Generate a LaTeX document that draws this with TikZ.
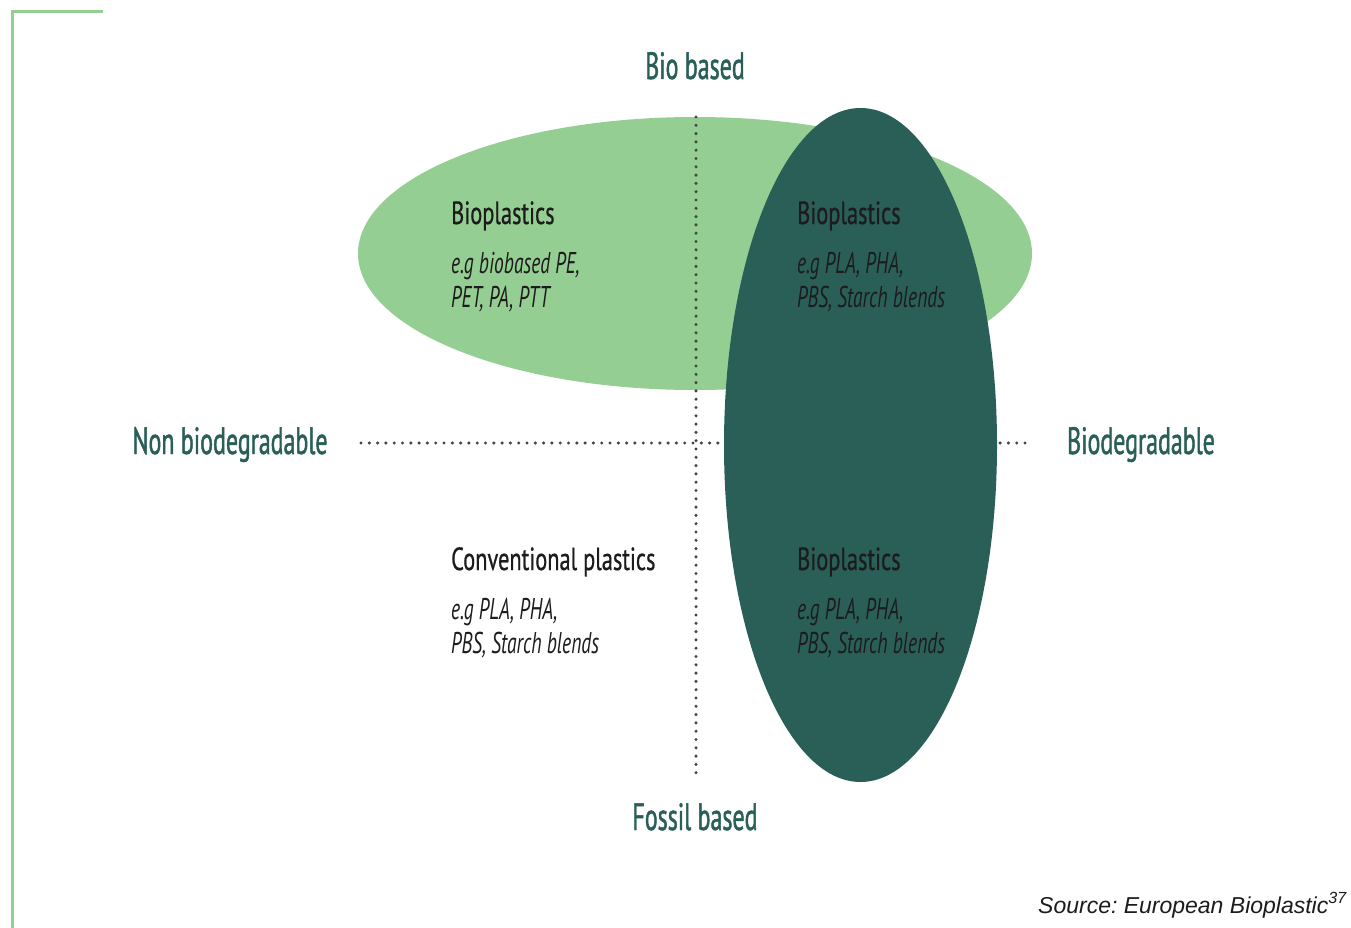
\documentclass[tikz,border=0pt]{standalone}
\usepackage{fontspec}
\usetikzlibrary{shapes.geometric}
\newfontfamily\axisf[FakeStretch=0.63,FakeBold=1.2]{PT Sans}
\newfontfamily\titlef[FakeStretch=0.7,FakeBold=0.6]{PT Sans}
\newfontfamily\exf[FakeStretch=0.65]{PT Sans}
\newfontfamily\srcfont{Liberation Sans}
\definecolor{lgreen}{HTML}{95CE92}
\definecolor{dgreen}{HTML}{2A5F58}
\definecolor{dotgray}{HTML}{454545}
\definecolor{txtdark}{HTML}{1C1C1C}
\begin{document}
\frenchspacing
\begin{tikzpicture}[x=1pt,y=-1pt,
  axislabel/.style={inner sep=0, anchor=base, text=dgreen, font=\axisf\fontsize{38}{40}\selectfont},
  title/.style={inner sep=0, anchor=base west, text=txtdark, font=\titlef\fontsize{32}{34}\selectfont},
  example/.style={inner sep=0, anchor=base west, text=txtdark, font=\exf\itshape\fontsize{30}{32}\selectfont},
  dotline/.style={dotgray, line width=3.4pt, line cap=round, dash pattern=on 0pt off 8.3pt},
  blob/.style={ellipse, inner sep=0, draw=none}]
\useasboundingbox (0,0) rectangle (1351,928);
\fill[white] (0,0) rectangle (1351,928);
% corner frame
\coordinate (fa) at (103,12);
\coordinate (fb) at (12,12);
\coordinate (fc) at (12,928);
\draw[lgreen, line width=3pt] (fa) -- (fb) -- (fc);
% light ellipse
\node[blob, fill=lgreen, minimum width=674, minimum height=273] (bio) at (695,253.5) {};
% axes
\coordinate (vt) at (696,117);
\coordinate (vb) at (696,778);
\coordinate (hl) at (361,443);
\coordinate (hr) at (1031,443);
\draw[dotline] (vt) -- (vb);
\draw[dotline] (hl) -- (hr);
% dark ellipse
\node[blob, fill=dgreen, minimum width=273, minimum height=674] (deg) at (860.5,445) {};
% axis labels
\node[axislabel] (lbio) at (695,79) {Bio based};
\node[axislabel] (lfos) at (695,830) {Fossil based};
\node[axislabel] (lnon) at (230,454) {Non biodegradable};
\node[axislabel] (ldeg) at (1141,454) {Biodegradable};
% quadrant texts
\node[title] (t1) at (451,224) {Bioplastics};
\node[example] (e1a) at (451,273) {e.g biobased PE,};
\node[example] (e1b) at (451,307) {PET, PA, PTT};
\node[title] (t2) at (797,224) {Bioplastics};
\node[example] (e2a) at (797,273) {e.g PLA, PHA,};
\node[example] (e2b) at (797,307) {PBS, Starch blends};
\node[title] (t3) at (451,570) {Conventional plastics};
\node[example] (e3a) at (451,619) {e.g PLA, PHA,};
\node[example] (e3b) at (451,653) {PBS, Starch blends};
\node[title] (t4) at (797,570) {Bioplastics};
\node[example] (e4a) at (797,619) {e.g PLA, PHA,};
\node[example] (e4b) at (797,653) {PBS, Starch blends};
% source
\node[inner sep=0, anchor=base east, text=txtdark, font=\srcfont\itshape\fontsize{23}{25}\selectfont] (src) at (1347,913) {Source: European Bioplastic\textsuperscript{37}};
\end{tikzpicture}
\end{document}
